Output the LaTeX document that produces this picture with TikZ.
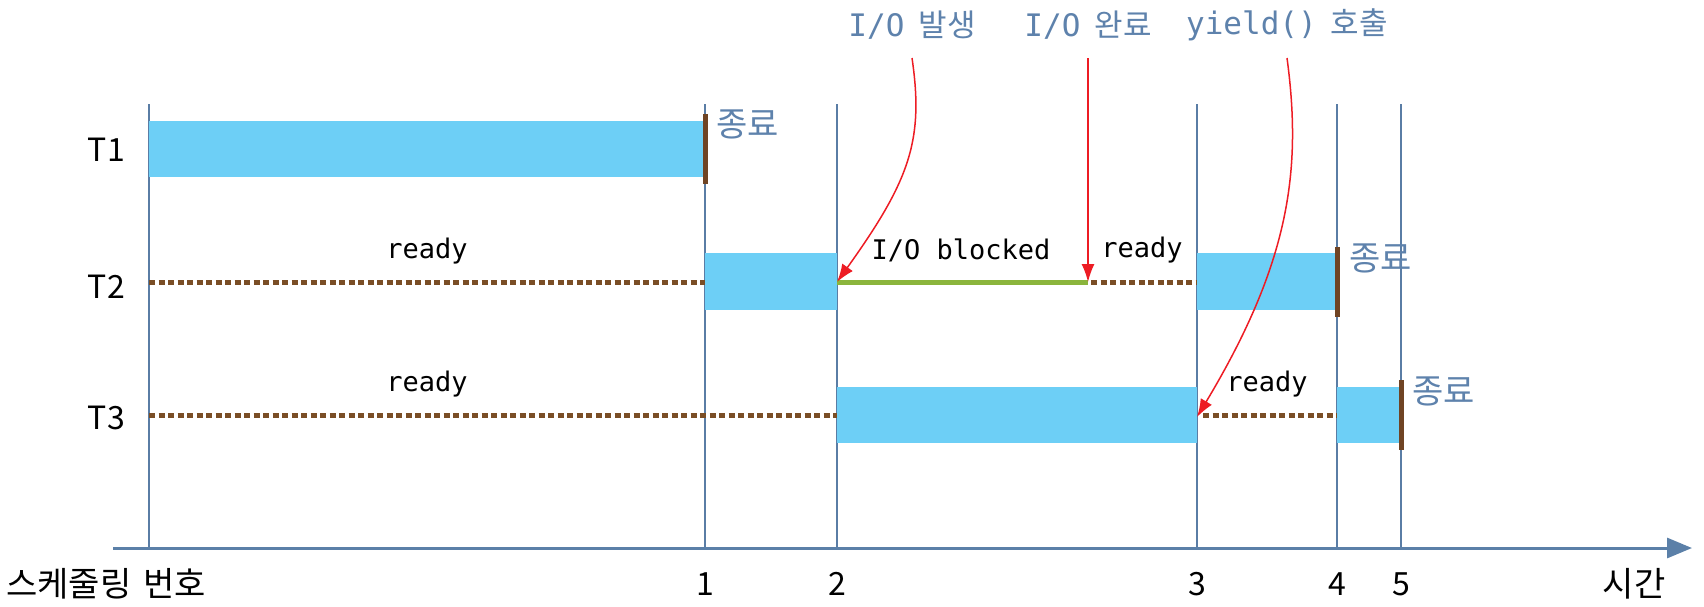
\documentclass[tikz,border=0pt]{standalone}
\usepackage{fontspec}
\setmainfont{Noto Sans CJK KR}
\newfontfamily\mono{DejaVu Sans Mono}
\usetikzlibrary{arrows.meta}
\definecolor{barblue}{HTML}{6DCFF6}
\definecolor{dotbrown}{HTML}{7A4E26}
\definecolor{endbrown}{HTML}{6F4424}
\definecolor{iogreen}{HTML}{8BB53C}
\definecolor{vline}{HTML}{5A7DA5}
\definecolor{axisblue}{HTML}{5B80A8}
\definecolor{lblue}{HTML}{5E82AC}
\definecolor{arrred}{HTML}{ED1C24}
\tikzset{
  runbar/.style={fill=barblue,draw=none},
  readyline/.style={draw=dotbrown,line width=5pt,dash pattern=on 6pt off 3.5pt},
  blockline/.style={draw=iogreen,line width=5pt},
  endbar/.style={draw=endbrown,line width=5pt},
  timeline/.style={draw=vline,line width=1.3pt},
  tlabel/.style={font=\fontsize{32}{36}\selectfont,text=black,inner sep=0pt},
  stlabel/.style={font=\mono\fontsize{27}{32}\selectfont,text=black,inner sep=0pt},
  endlabel/.style={font=\fontsize{34}{38}\selectfont,text=lblue,inner sep=0pt,anchor=west},
  toplabel/.style={font=\fontsize{31}{36}\selectfont,text=lblue,inner sep=0pt},
  evarrow/.style={draw=arrred,line width=1.5pt,-{Latex[length=18pt,width=13pt]}},
}
\begin{document}
\begin{tikzpicture}[x=1pt,y=-1pt]
\useasboundingbox (0,0) rectangle (1704,606);
% vertical time lines
\foreach \n/\xx in {0/149,1/705,2/837,3/1197,4/1337,5/1401}{
  \coordinate (top\n) at (\xx,104);
  \coordinate (bot\n) at (\xx,548);
  \draw[timeline] (top\n) -- (bot\n);
}
% axis
\coordinate (axs) at (113,548);
\coordinate (axe) at (1692,548);
\draw[draw=axisblue,line width=3pt,-{Triangle[length=25pt,width=20pt]}] (axs) -- (axe);
% T1
\fill[runbar] (149,121) rectangle (705,177);
\draw[endbar] (705,114) -- (705,184);
\node[endlabel] (end1) at (716,124) {종료};
% T2
\coordinate (t2a) at (149,282);
\coordinate (t2b) at (705,282);
\coordinate (t2c) at (837,282);
\coordinate (t2d) at (1088,282);
\coordinate (t2e) at (1197,282);
\draw[readyline] (t2a) -- (t2b);
\fill[runbar] (705,253) rectangle (837,310);
\draw[blockline] (t2c) -- (t2d);
\draw[readyline] ([xshift=3pt]t2d) -- (t2e);
\fill[runbar] (1197,253) rectangle (1337,310);
\draw[endbar] (1337,247) -- (1337,317);
\node[endlabel] (end2) at (1349,258) {종료};
% T3
\coordinate (t3a) at (149,415);
\coordinate (t3b) at (837,415);
\coordinate (t3c) at (1197,415);
\coordinate (t3d) at (1337,415);
\draw[readyline] (t3a) -- (t3b);
\fill[runbar] (837,387) rectangle (1197,443);
\draw[readyline] ([xshift=6pt]t3c) -- (t3d);
\fill[runbar] (1337,387) rectangle (1401,443);
\draw[endbar] (1401,380) -- (1401,450);
\node[endlabel] (end3) at (1412,391) {종료};
% row labels
\node[tlabel,anchor=east] (T1) at (125,150) {T1};
\node[tlabel,anchor=east] (T2) at (125,287) {T2};
\node[tlabel,anchor=east] (T3) at (125,418) {T3};
% state labels
\node[stlabel] (r21) at (427,251) {ready};
\node[stlabel] (blk) at (961,250) {I/O blocked};
\node[stlabel] (r22) at (1142,250) {ready};
\node[stlabel] (r31) at (427,384) {ready};
\node[stlabel] (r32) at (1267,384) {ready};
% axis labels
\node[tlabel,anchor=west,font=\fontsize{34}{38}\selectfont] (sched) at (6,584) {스케줄링\hspace{12pt}번호};
\node[tlabel] (n1) at (705,584) {1};
\node[tlabel] (n2) at (837,584) {2};
\node[tlabel] (n3) at (1197,584) {3};
\node[tlabel] (n4) at (1337,584) {4};
\node[tlabel] (n5) at (1401,584) {5};
\node[tlabel,font=\fontsize{34}{38}\selectfont] (time) at (1634,584) {시간};
% top event labels
\node[toplabel] (ev1) at (912,25) {{\mono I/O}\hspace{14pt}발생};
\node[toplabel] (ev2) at (1088,25) {{\mono I/O}\hspace{14pt}완료};
\node[toplabel] (ev3) at (1287,25) {{\mono yield()}\hspace{14pt}호출};
\coordinate (ev1s) at (912,58);
\coordinate (ev2s) at (1088,58);
\coordinate (ev3s) at (1287,58);
\draw[evarrow] (ev1s) .. controls (924,140) and (910,180) .. (t2c);
\draw[evarrow] (ev2s) -- (t2d);
\draw[evarrow] (ev3s) .. controls (1302,170) and (1290,262) .. ([yshift=-2pt]t3c);
\end{tikzpicture}
\end{document}
